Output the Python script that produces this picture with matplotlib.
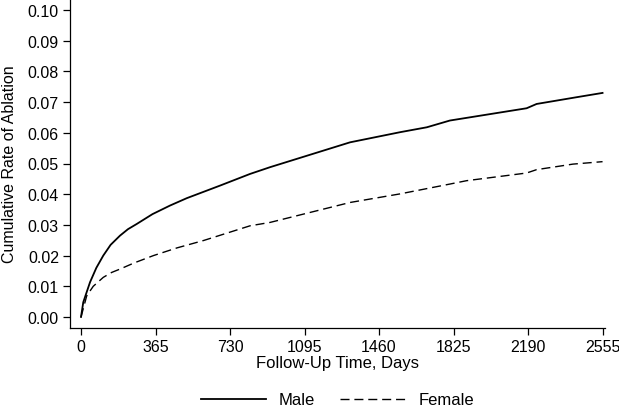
import numpy as np
import matplotlib
matplotlib.use('Agg')
from matplotlib import pyplot as plt

# cumulative rate of ablation
male_days = [0, 11, 44, 75, 109, 145, 191, 230, 273, 350, 436, 518, 681, 828, 926, 1318, 1563, 1694,
             1807, 2183, 2232, 2428, 2555]
male_rate = [0.0, 0.0048, 0.0113, 0.0160, 0.0200, 0.0235, 0.0265, 0.0286, 0.0303, 0.0335, 0.0363,
             0.0387, 0.0428, 0.0466, 0.0488, 0.0569, 0.0602, 0.0618, 0.0640, 0.0680, 0.0694, 0.0716,
             0.0730]

female_days = [0, 28, 60, 109, 150, 191, 260, 355, 470, 600, 828, 926, 1318, 1563, 1807, 1889, 2183,
               2232, 2410, 2555]
female_rate = [0.0, 0.0069, 0.0100, 0.0129, 0.0145, 0.0156, 0.0176, 0.0200, 0.0225, 0.0249, 0.0297,
               0.0308, 0.0373, 0.0401, 0.0433, 0.0444, 0.0469, 0.0480, 0.0498, 0.0506]

x_ticks = [0, 365, 730, 1095, 1460, 1825, 2190, 2555]
y_ticks = [0.00, 0.01, 0.02, 0.03, 0.04, 0.05, 0.06, 0.07, 0.08, 0.09, 0.10]

plt.rcParams['font.family'] = ['Liberation Sans', 'DejaVu Sans']

fig = plt.figure(figsize=(6.19, 4.10), dpi=100)
ax = fig.add_axes([70 / 619, 81 / 410, 535 / 619, 329 / 410])

ax.plot(male_days, male_rate, color='black', lw=1.3, label='Male')
ax.plot(female_days, female_rate, color='black', lw=1.0, linestyle=(0, (6.5, 3.5)), label='Female')

ax.set_xlim(-54, 2567)
ax.set_ylim(-0.0036, 0.1036)
ax.set_xticks(x_ticks)
ax.set_xticklabels([str(t) for t in x_ticks])
ax.set_yticks(y_ticks)
ax.set_yticklabels(['%.2f' % t for t in y_ticks])
ax.tick_params(labelsize=11.5, length=5, width=0.9, pad=3)

for side in ['top', 'right']:
    ax.spines[side].set_visible(False)
for side in ['left', 'bottom']:
    ax.spines[side].set_linewidth(0.9)

ax.set_xlabel('Follow-Up Time, Days', fontsize=12, labelpad=1)
ax.set_ylabel('Cumulative Rate of Ablation', fontsize=11.5, labelpad=8)

leg = ax.legend(loc='upper center', bbox_to_anchor=(0.5, -0.15), ncol=2, frameon=False,
                fontsize=12, handlelength=3.9, columnspacing=1.5, handletextpad=0.8)

fig.savefig('out.png', dpi=100)
